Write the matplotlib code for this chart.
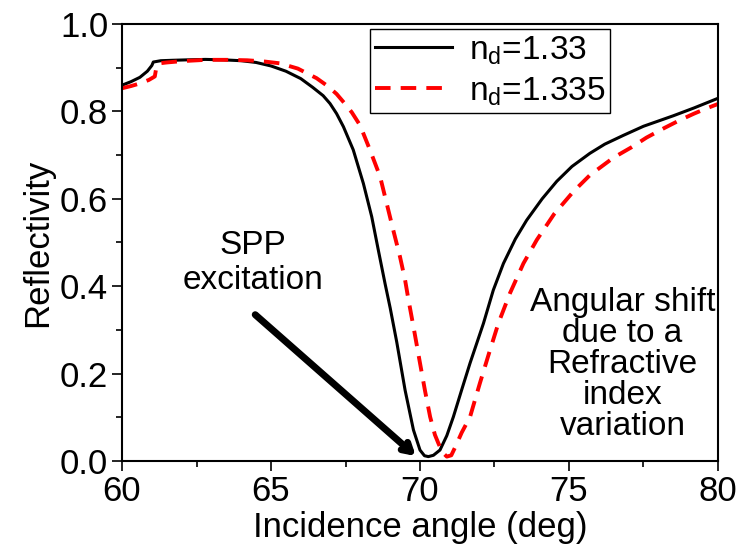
import numpy as np
import matplotlib
matplotlib.use('Agg')
import matplotlib.pyplot as plt

plt.rcParams['font.family'] = ['Liberation Sans', 'DejaVu Sans']
plt.rcParams['mathtext.fontset'] = 'custom'
plt.rcParams['mathtext.rm'] = 'Liberation Sans'

# n_d = 1.33 (black solid)
angle_133 = [60.0, 60.3, 60.6, 60.85, 61.0, 61.05, 61.3, 61.7, 62.2, 62.8,
             63.4, 64.0, 64.5, 65.0, 65.5, 66.0, 66.4, 66.75, 66.98, 67.2,
             67.43, 67.76, 68.1, 68.38, 68.6, 68.83, 69.0, 69.22, 69.5, 69.78,
             70.0, 70.15, 70.28, 70.45, 70.67, 70.9, 71.12, 71.4, 71.68, 72.13,
             72.46, 72.8, 73.2, 73.58, 74.1, 74.59, 75.1, 75.7, 76.2, 76.82,
             77.5, 78.5, 79.2, 80.0]
refl_133 = [0.860, 0.868, 0.878, 0.892, 0.905, 0.913, 0.916, 0.917, 0.918, 0.919,
            0.918, 0.916, 0.912, 0.904, 0.892, 0.875, 0.855, 0.836, 0.818, 0.795,
            0.765, 0.712, 0.635, 0.559, 0.483, 0.405, 0.350, 0.272, 0.162, 0.071,
            0.025, 0.012, 0.010, 0.013, 0.025, 0.058, 0.101, 0.163, 0.224, 0.315,
            0.391, 0.452, 0.508, 0.551, 0.600, 0.640, 0.674, 0.704, 0.725, 0.745,
            0.766, 0.790, 0.808, 0.830]

# n_d = 1.335 (red dashed)
angle_1335 = [60.0, 60.3, 60.6, 60.9, 61.1, 61.15, 61.25, 61.5, 62.0, 62.8,
              63.5, 64.2, 64.8, 65.3, 65.9, 66.53, 66.9, 67.2, 67.45, 67.71,
              67.99, 68.32, 68.66, 68.88, 69.1, 69.33, 69.5, 69.61, 69.8, 70.0,
              70.17, 70.34, 70.5, 70.62, 70.75, 70.9, 71.05, 71.17, 71.4, 71.68,
              72.01, 72.35, 72.63, 73.02, 73.47, 73.92, 74.5, 75.14, 75.7, 76.49,
              77.1, 77.6, 78.2, 78.72, 79.2, 79.62, 80.0]
refl_1335 = [0.853, 0.858, 0.864, 0.872, 0.880, 0.900, 0.910, 0.912, 0.915, 0.918,
             0.918, 0.917, 0.914, 0.910, 0.898, 0.876, 0.858, 0.840, 0.820, 0.798,
             0.768, 0.712, 0.651, 0.590, 0.529, 0.467, 0.414, 0.370, 0.300, 0.224,
             0.160, 0.101, 0.060, 0.040, 0.020, 0.010, 0.013, 0.030, 0.065, 0.101,
             0.178, 0.254, 0.315, 0.384, 0.452, 0.506, 0.565, 0.616, 0.654, 0.694,
             0.718, 0.740, 0.762, 0.780, 0.795, 0.807, 0.817]

labels = [r'n$_\mathregular{d}$=1.33', r'n$_\mathregular{d}$=1.335']

fig = plt.figure(figsize=(7.36, 5.52), dpi=100)
ax = fig.add_axes([0.1658, 0.1649, 0.8097, 0.7916])

ax.plot(angle_133, refl_133, color='black', lw=2.2, label=labels[0])
ax.plot(angle_1335, refl_1335, color='red', lw=2.8, ls=(0, (4, 2.6)), label=labels[1])

ax.set_xlim(60, 80)
ax.set_ylim(0, 1.0)
ax.set_xticks([60, 65, 70, 75, 80])
ax.set_yticks([0.0, 0.2, 0.4, 0.6, 0.8, 1.0])
ax.set_xticks(np.arange(62.5, 80, 5), minor=True)
ax.set_yticks(np.arange(0.1, 1.0, 0.2), minor=True)
ax.tick_params(which='major', direction='out', length=7, width=1.2, labelsize=25, pad=3)
ax.tick_params(which='minor', direction='out', length=4, width=1.2)
for s in ax.spines.values():
    s.set_linewidth(1.5)

ax.set_xlabel('Incidence angle (deg)', fontsize=25, labelpad=2)
ax.set_ylabel('Reflectivity', fontsize=25, labelpad=4)

leg = ax.legend(loc='upper right', bbox_to_anchor=(0.819, 0.989), borderaxespad=0,
                fontsize=24, handlelength=2.3, fancybox=False, framealpha=1,
                edgecolor='black', borderpad=0.15, labelspacing=0.25, handletextpad=0.5)
leg.get_frame().set_linewidth(1.0)

ax.text(64.4, 0.453, 'SPP\nexcitation', fontsize=24, ha='center', va='center')
ax.annotate('', xy=(69.93, 0.007), xytext=(64.4, 0.339),
            arrowprops=dict(arrowstyle='->,head_length=0.6,head_width=0.35',
                            lw=5, color='black'))
ax.text(76.8, 0.22, 'Angular shift\ndue to a\nRefractive\nindex\nvariation',
        fontsize=24, ha='center', va='center', linespacing=1.0)

fig.savefig('out.png', dpi=100)
